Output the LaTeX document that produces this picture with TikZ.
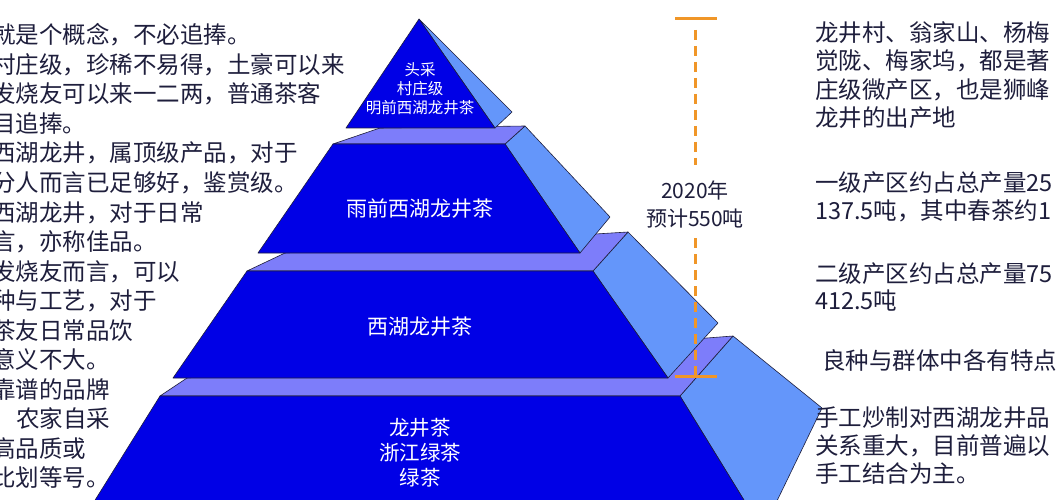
\documentclass[tikz,border=0pt]{standalone}
\usepackage{fontspec}
\setmainfont{Noto Sans CJK SC}
\definecolor{tblue}{RGB}{0,0,230}
\definecolor{ledge}{RGB}{125,125,250}
\definecolor{side}{RGB}{100,150,250}
\definecolor{ink}{RGB}{30,30,60}
\definecolor{org}{RGB}{240,150,40}
\begin{document}
\begin{tikzpicture}[x=1pt,y=-1pt,
  face/.style={fill=tblue,draw=ink,line width=0.6pt,line join=round},
  led/.style={fill=ledge,draw=ink,line width=0.6pt,line join=round},
  sd/.style={fill=side,draw=ink,line width=0.6pt,line join=round},
  lt/.style={anchor=base west,font=\fontsize{23.5}{23.5}\selectfont,text=ink,inner sep=0},
  wt/.style={text=white,align=center,font=\fontsize{21}{24}\selectfont}]
\useasboundingbox (0,0) rectangle (1058,500);
\fill[white] (0,0) rectangle (1058,500);
% tier 4
\draw[sd] (680,396) -- (733,336) -- (822,408) -- (775,505) -- (747,505) -- cycle;
\draw[led] (187,378) -- (733,336) -- (680,396) -- (160,396) -- cycle;
\draw[face] (160,396) -- (680,396) -- (747,505) -- (92,505) -- cycle;
% tier 3
\draw[sd] (593,271) -- (628,232) -- (718,323) -- (668,378) -- cycle;
\draw[led] (285,253) -- (628,232) -- (593,271) -- (247,271) -- cycle;
\draw[face] (247,271) -- (593,271) -- (668,378) -- (173,378) -- cycle;
% tier 2
\draw[sd] (505,144) -- (525,126) -- (610,217) -- (580,253) -- cycle;
\draw[led] (380,128) -- (525,126) -- (505,144) -- (333,144) -- cycle;
\draw[face] (333,144) -- (505,144) -- (580,253) -- (258,253) -- cycle;
% tier 1
\draw[sd] (419,19) -- (512,112) -- (495,128) -- cycle;
\draw[face] (419,19) -- (495,128) -- (346,128) -- cycle;
% labels
\node[wt,font=\fontsize{15.5}{19}\selectfont] (t1) at (420,89) {头采\\村庄级\\明前西湖龙井茶};
\node[wt] (t2) at (420,209) {雨前西湖龙井茶};
\node[wt] (t3) at (420,327) {西湖龙井茶};
\node[wt,font=\fontsize{20.5}{25}\selectfont] (t4) at (420,453) {龙井茶\\浙江绿茶\\绿茶};
% orange
\draw[org,line width=3pt] (675,19) -- (717,19);
\draw[org,line width=3pt] (675,376) -- (717,376);
\node[text=ink,align=center,font=\fontsize{21}{28}\selectfont] (yr) at (695,204) {2020年\\预计550吨};
\draw[org,line width=3pt,dash pattern=on 10pt off 6pt] (695,30) -- (695,165);
\draw[org,line width=3pt,dash pattern=on 10pt off 6pt] (695,238) -- (695,376);
% left text
\foreach \t [count=\i] in {就是个概念，不必追捧。,村庄级，珍稀不易得，土豪可以来,发烧友可以来一二两，普通茶客,目追捧。,西湖龙井，属顶级产品，对于,分人而言已足够好，鉴赏级。,西湖龙井，对于日常,言，亦称佳品。,发烧友而言，可以,种与工艺，对于,茶友日常品饮,意义不大。,靠谱的品牌,,高品质或,比划等号。}
  \node[lt] (l\i) at (-8,{44+29.5*(\i-1)}) {\t};
\node[lt] (l14) at (16,{44+29.5*13}) {农家自采};
% right text
\foreach \t/\y [count=\i] in {龙井村、翁家山、杨梅/42,觉陇、梅家坞，都是著/70,庄级微产区，也是狮峰/99,龙井的出产地/127,一级产区约占总产量25/191,137.5吨，其中春茶约1/219,二级产区约占总产量75/282,412.5吨/309,手工炒制对西湖龙井品/426,关系重大，目前普遍以/454,手工结合为主。/482}
  \node[lt] (r\i) at (815,\y) {\t};
\node[lt] (r12) at (822,369) {良种与群体中各有特点};
\end{tikzpicture}
\end{document}
